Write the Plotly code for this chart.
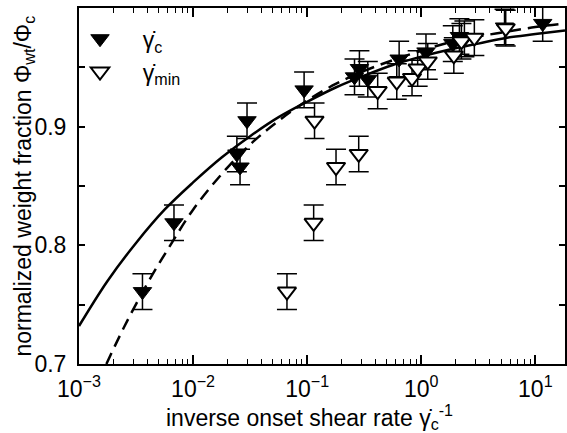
import plotly.graph_objects as go

# ---- data ----
gc_x = [0.0036, 0.0068, 0.0242, 0.0258, 0.0297, 0.094, 0.26, 0.287, 0.34, 0.64, 1.1, 1.89, 2.16, 2.39, 5.37, 11.6]
gc_y = [0.761, 0.819, 0.877, 0.866, 0.905, 0.931, 0.942, 0.949, 0.940, 0.957, 0.963, 0.970, 0.976, 0.974, 0.984, 0.987]
gc_err = [0.015] * len(gc_x)

gmin_x = [0.0665, 0.114, 0.116, 0.179, 0.283, 0.415, 0.61, 0.83, 0.93, 1.14, 1.93, 2.25, 2.92, 5.5]
gmin_y = [0.761, 0.819, 0.905, 0.866, 0.877, 0.930, 0.938, 0.941, 0.949, 0.955, 0.960, 0.972, 0.975, 0.983]
gmin_err = [0.015] * len(gmin_x)

solid_x = [1e-3, 10**-2.75, 10**-2.5, 10**-2.25, 1e-2, 10**-1.75, 10**-1.5, 10**-1.25, 1e-1,
           10**-0.75, 10**-0.5, 10**-0.25, 1.0, 10**0.25, 10**0.5, 10**0.75, 10.0, 10**1.26]
solid_y = [0.732, 0.770, 0.802, 0.830, 0.853, 0.874, 0.892, 0.908, 0.921,
           0.933, 0.943, 0.952, 0.959, 0.965, 0.970, 0.975, 0.978, 0.981]

dash_x = [10**-2.76, 10**-2.6, 10**-2.4, 10**-2.2, 1e-2, 10**-1.75, 10**-1.5, 10**-1.25, 1e-1,
          10**-0.75, 10**-0.5, 10**-0.25, 1.0, 10**0.25, 10**0.5, 10**0.75, 10.0, 10**1.26]
dash_y = [0.700, 0.732, 0.768, 0.800, 0.830, 0.860, 0.885, 0.905, 0.922,
          0.936, 0.947, 0.956, 0.964, 0.971, 0.976, 0.980, 0.984, 0.987]

x_tick_vals = [1e-3, 1e-2, 1e-1, 1e0, 1e1]
x_tick_text = ["10<sup>−3</sup>", "10<sup>−2</sup>", "10<sup>−1</sup>", "10<sup>0</sup>", "10<sup>1</sup>"]
y_tick_vals = [0.7, 0.75, 0.8, 0.85, 0.9, 0.95, 1.0]
y_tick_text = ["0.7", " ", "0.8", " ", "0.9", " ", "1.0"]

x_title = "inverse onset shear rate γ̇<sub>c</sub><sup>-1</sup>"
y_title = "normalized weight fraction Φ<sub>wt</sub>/Φ<sub>c</sub>"

FONT = "Liberation Sans, Arial, Helvetica, sans-serif"
FS = 23

minor_x = [m * 10**d for d in range(-3, 2) for m in range(2, 10) if m * 10**d < 19]

fig = go.Figure()

fig.add_trace(go.Scatter(x=solid_x, y=solid_y, mode="lines", line=dict(color="black", width=2.5, shape="spline"),
                         showlegend=False, hoverinfo="skip"))
fig.add_trace(go.Scatter(x=dash_x, y=dash_y, mode="lines",
                         line=dict(color="black", width=2.5, dash="12px,7px", shape="spline"),
                         showlegend=False, hoverinfo="skip"))

fig.add_trace(go.Scatter(
    x=gc_x, y=gc_y, mode="markers", name="\u00a0\u00a0γ̇<sub>c</sub>",
    marker=dict(symbol="triangle-down", size=16, color="black", line=dict(color="black", width=1)),
    error_y=dict(type="data", array=gc_err, visible=True, color="black", thickness=1.5, width=10),
))
fig.add_trace(go.Scatter(
    x=gmin_x, y=gmin_y, mode="markers", name="\u00a0\u00a0γ̇<sub>min</sub>",
    marker=dict(symbol="triangle-down", size=16, color="white", line=dict(color="black", width=2)),
    error_y=dict(type="data", array=gmin_err, visible=True, color="black", thickness=1.5, width=10),
))

fig.update_layout(
    width=567, height=433,
    margin=dict(l=79, r=2, t=8, b=69),
    paper_bgcolor="white", plot_bgcolor="white",
    font=dict(family=FONT, size=FS, color="black"),
    legend=dict(x=-0.0185, y=0.974, xanchor="left", yanchor="top", bgcolor="rgba(0,0,0,0)",
                font=dict(size=FS), itemwidth=50, tracegroupgap=0),
    annotations=[
        dict(text=x_title, xref="paper", yref="paper", x=0.474, y=-0.148,
             xanchor="center", yanchor="middle", showarrow=False, font=dict(size=FS)),
        dict(text=y_title, xref="paper", yref="paper", x=-0.114, y=0.5, textangle=-90,
             xanchor="center", yanchor="middle", showarrow=False, font=dict(size=FS)),
    ],
)

fig.update_xaxes(
    type="log", range=[-3, 1.26],
    tickmode="array", tickvals=x_tick_vals, ticktext=x_tick_text,
    ticks="inside", ticklen=9, tickwidth=1.5, tickcolor="black", ticklabelstandoff=3,
    showline=True, linecolor="black", linewidth=2, mirror="ticks",
    showgrid=False, zeroline=False,
    minor=dict(tickmode="array", tickvals=minor_x, ticks="inside", ticklen=5, tickwidth=1.2,
               tickcolor="black", showgrid=False),
    automargin=False,
)
fig.update_yaxes(
    range=[0.7, 1.0],
    tickmode="array", tickvals=y_tick_vals, ticktext=y_tick_text,
    ticks="inside", ticklen=6, tickwidth=1.5, tickcolor="black", ticklabelstandoff=6,
    showline=True, linecolor="black", linewidth=2, mirror="ticks",
    showgrid=False, zeroline=False,
    automargin=False,
)

fig.write_html("out.html", config={"displayModeBar": False},
               post_script="document.body.style.margin='0px';document.body.style.overflow='hidden';")
